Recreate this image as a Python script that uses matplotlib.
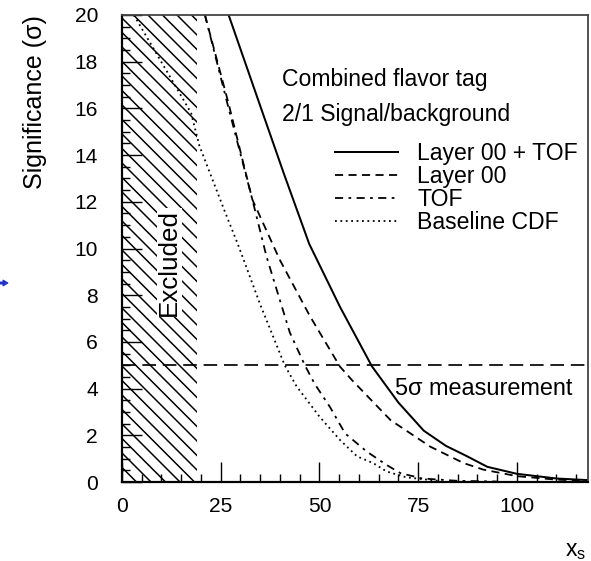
import matplotlib
matplotlib.use("Agg")
import matplotlib.pyplot as plt
import numpy as np
from matplotlib.ticker import MultipleLocator
from matplotlib.patches import FancyArrow, Rectangle

plt.rcParams['font.family'] = ['Liberation Sans', 'DejaVu Sans']

# ---- data ----
x_combined = [27, 34.4, 41, 47.4, 55.2, 63.3, 70, 76.4, 82, 87.4, 92.5, 100, 110, 118]
y_combined = [20, 16.4, 13.2, 10.2, 7.5, 4.95, 3.4, 2.2, 1.55, 1.1, 0.65, 0.35, 0.15, 0.08]

x_layer00 = [21, 27, 33, 40, 47.6, 55.2, 58.2, 68, 78.1, 86.5, 91.5, 100, 110, 118]
y_layer00 = [20, 16.2, 12.1, 9.5, 7.1, 4.94, 4.37, 2.65, 1.51, 0.81, 0.53, 0.25, 0.1, 0.05]

x_tof = [21, 27, 33, 36.6, 42.5, 46.3, 48.8, 52.7, 56.5, 62, 67, 70.5, 76, 85, 95]
y_tof = [20, 16.0, 12.1, 9.65, 6.4, 5.0, 4.2, 3.2, 2.08, 1.3, 0.73, 0.38, 0.15, 0.05, 0.02]

x_baseline = [3, 12, 17.5, 19.6, 26, 29.3, 35, 41.2, 44.2, 50, 55.2, 59.5, 63.7, 67, 72, 80]
y_baseline = [20, 17.4, 15.8, 14.4, 11.6, 10.2, 7.6, 5.0, 4.1, 2.8, 1.8, 1.1, 0.8, 0.45, 0.2, 0.05]

labels = ["Layer 00 + TOF", "Layer 00", "TOF", "Baseline CDF"]
excluded_max = 19
measurement_level = 5
x_ticks = [0, 25, 50, 75, 100]
y_ticks = [0, 2, 4, 6, 8, 10, 12, 14, 16, 18, 20]
XMAX, YMAX = 118, 20

W, H = 591, 561
DPI = 72
fig = plt.figure(figsize=(W / DPI, H / DPI), dpi=DPI)
ax_l, ax_r, ax_t, ax_b = 122, 588, 15, 482
ax = fig.add_axes([ax_l / W, 1 - ax_b / H, (ax_r - ax_l) / W, (ax_b - ax_t) / H])
ax.set_xlim(0, XMAX)
ax.set_ylim(0, YMAX)

# excluded region: 45-degree hatch lines
px_x = (ax_r - ax_l) / XMAX
px_y = (ax_b - ax_t) / YMAX
k = px_x / px_y
step = 14.5 / px_x
clip = Rectangle((0, 0), excluded_max, YMAX, facecolor='none', edgecolor='none')
ax.add_patch(clip)
hx = np.array([0, excluded_max])
for x0 in np.arange(-YMAX / k, excluded_max + step, step):
    ln, = ax.plot(hx, YMAX - k * (hx - x0), color='black', lw=1.5, zorder=1)
    ln.set_clip_path(clip)
ax.text(excluded_max * 0.63, 9.4, "Excluded", rotation=90, ha='center', va='center',
        fontsize=26, zorder=3, bbox=dict(facecolor='white', edgecolor='none', pad=0.5))

# curves
ax.plot(x_combined, y_combined, color='black', lw=2.0, ls='-', label=labels[0])
ax.plot(x_layer00, y_layer00, color='black', lw=1.8, ls=(0, (4.5, 3)), label=labels[1])
ax.plot(x_tof, y_tof, color='black', lw=1.8, ls=(0, (4.5, 3, 1.5, 3)), label=labels[2])
ax.plot(x_baseline, y_baseline, color='black', lw=1.8, ls=(0, (1.0, 2.0)), label=labels[3])

# 5 sigma line
ax.axhline(measurement_level, color='black', lw=1.7, ls=(0, (8, 4)))
ax.text(69.2, 4.0, "5σ measurement", fontsize=23.5, ha='left', va='center')

ax.text(0.343, 0.861, "Combined flavor tag", transform=ax.transAxes, fontsize=23,
        ha='left', va='center')
ax.text(0.343, 0.786, "2/1 Signal/background", transform=ax.transAxes, fontsize=23,
        ha='left', va='center')

ax.legend(loc='upper left', bbox_to_anchor=(0.457, 0.727), frameon=False,
          fontsize=23, handlelength=2.74, handletextpad=0.83, labelspacing=0.0,
          borderpad=0, borderaxespad=0)

ax.set_xticks(x_ticks)
ax.set_yticks(y_ticks)
ax.xaxis.set_minor_locator(MultipleLocator(5))
ax.yaxis.set_minor_locator(MultipleLocator(0.5))
ax.tick_params(axis='both', which='both', direction='in', top=False, right=False,
               labelsize=21, width=1.4)
ax.tick_params(axis='x', which='major', length=20, pad=15)
ax.tick_params(axis='x', which='minor', length=8)
ax.tick_params(axis='y', which='major', length=20, pad=24)
ax.tick_params(axis='y', which='minor', length=8)

for s in ['left', 'bottom']:
    ax.spines[s].set_linewidth(2.2)
for s in ['top', 'right']:
    ax.spines[s].set_linewidth(1.8)
    ax.spines[s].set_color('#444444')

fig.text(35 / W, 1 - 15 / H, "Significance (σ)", rotation=90, ha='center', va='top',
         fontsize=25)
fig.text(576 / W, 1 - 550 / H, r"x$_\mathregular{s}$", ha='center', va='center', fontsize=23)

fig.patches.append(FancyArrow(0 / W, 1 - 283 / H, 8 / W, 0, width=2 / H,
                              head_width=6 / H, head_length=5 / W,
                              transform=fig.transFigure, color='#2233cc',
                              length_includes_head=True))

fig.savefig("out.png", dpi=DPI)
